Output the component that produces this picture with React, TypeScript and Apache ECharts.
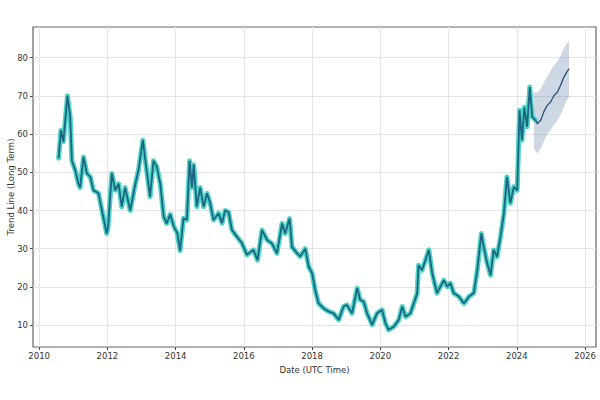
import React, { useEffect, useRef } from "react";
import * as echarts from "echarts";

// Historical trend line (decimal year, value)
const histYears = [
  2010.57, 2010.64, 2010.71, 2010.83, 2010.91, 2010.96, 2011.06, 2011.15, 2011.2, 2011.3,
  2011.4, 2011.5, 2011.59, 2011.74, 2011.84, 2011.98, 2012.02, 2012.13, 2012.23, 2012.33,
  2012.42, 2012.52, 2012.67, 2012.82, 2012.91, 2013.04, 2013.1, 2013.25, 2013.35, 2013.45,
  2013.55, 2013.65, 2013.74, 2013.84, 2013.94, 2014.05, 2014.13, 2014.23, 2014.33, 2014.41,
  2014.48, 2014.53, 2014.62, 2014.72, 2014.82, 2014.92, 2015.01, 2015.11, 2015.26, 2015.36,
  2015.45, 2015.55, 2015.65, 2015.8, 2015.94, 2016.09, 2016.28, 2016.4, 2016.53, 2016.68,
  2016.82, 2016.97, 2017.12, 2017.21, 2017.34, 2017.41, 2017.56, 2017.65, 2017.8, 2017.9,
  2018.0, 2018.09, 2018.19, 2018.34, 2018.48, 2018.63, 2018.78, 2018.92, 2019.02, 2019.17,
  2019.32, 2019.41, 2019.51, 2019.61, 2019.76, 2019.9, 2020.05, 2020.15, 2020.24, 2020.39,
  2020.54, 2020.64, 2020.74, 2020.88, 2020.98, 2021.08, 2021.12, 2021.22, 2021.32, 2021.42,
  2021.52, 2021.66, 2021.76, 2021.86, 2021.96, 2022.05, 2022.15, 2022.3, 2022.45, 2022.6,
  2022.74, 2022.84, 2022.96, 2023.03, 2023.13, 2023.23, 2023.32, 2023.42, 2023.52, 2023.62,
  2023.71, 2023.81, 2023.91, 2024.01, 2024.08, 2024.15, 2024.22, 2024.3, 2024.38, 2024.45,
  2024.55,
];
const histValues = [
  53.7, 61, 58, 70, 64.5, 53, 50.5, 47, 46, 54,
  49.7, 48.8, 45.3, 44.5, 40, 34, 35.7, 49.7, 45.3, 47,
  41, 46, 40, 47, 50.5, 58.4, 54, 43.6, 53, 51.4,
  47, 38.4, 36.6, 39, 36, 34, 29.5, 38, 37.5, 53,
  46, 52, 41, 46, 41, 44.5, 42, 37.5, 39.3, 36.7,
  40, 39.6, 34.9, 33.1, 31.5, 28.4, 29.7, 27, 34.9, 32.3,
  31.4, 28.8, 36.6, 34, 37.9, 30.5, 28.8, 28, 30, 25.3,
  23.6, 19.2, 15.7, 14.4, 13.6, 13.1, 11.4, 14.9, 15.3, 13.1,
  19.7, 16.6, 16.2, 13.1, 10.1, 13.1, 14, 10.5, 8.8, 9.6,
  11.4, 14.9, 12.2, 13.1, 15.7, 18.4, 25.7, 24.4, 27, 29.7,
  23.6, 18.4, 20.1, 21.8, 20.1, 21, 18.4, 17.5, 15.7, 17.5,
  18.4, 24.4, 34, 30.5, 26.2, 23.1, 29.7, 27.9, 33.1, 39.2,
  48.8, 41.9, 46.2, 45.3, 66.2, 58.4, 67, 61.9, 72.3, 64.5,
  63.6,
];

// Forecast
const fcYears = [2024.5, 2024.55, 2024.6, 2024.7, 2024.79, 2024.89, 2024.99, 2025.09, 2025.19, 2025.28, 2025.38, 2025.45, 2025.53];
const fcValues = [64, 63.6, 62.7, 63.6, 65.8, 67.5, 68.4, 70.1, 71, 72.7, 74.9, 76, 77.1];
const fcUpper = [70.5, 71, 70.8, 71.8, 73.5, 75, 76.6, 78, 79, 80.5, 82.5, 83.5, 84.2];
const fcLower = [56.5, 55.5, 55, 56.2, 58, 60, 61, 62.5, 63.5, 65, 67, 68.5, 69.7];

const xTicks = [2010, 2012, 2014, 2016, 2018, 2020, 2022, 2024, 2026];
const yTicks = [10, 20, 30, 40, 50, 60, 70, 80];

const FONT = "DejaVu Sans";

export default function App() {
  const ref = useRef<HTMLDivElement>(null);
  useEffect(() => {
    if (!ref.current) return;
    const chart = echarts.init(ref.current, null, { renderer: "svg" });
    const hist = histYears.map((x, i) => [x, histValues[i]]);
    const fcLine = fcYears.slice(1).map((x, i) => [x, fcValues[i + 1]]);
    const bandData = fcYears.map((x, i) => [x, fcLower[i], fcUpper[i]]);
    chart.setOption({
      animation: false,
      backgroundColor: "#ffffff",
      grid: {
        left: 33,
        right: 4,
        top: 27,
        bottom: 53,
        show: true,
        borderColor: "#666",
        borderWidth: 1.2,
        backgroundColor: "transparent",
        containLabel: false,
        outerBoundsMode: "none",
      },
      xAxis: {
        type: "value",
        min: 2009.82,
        max: 2026.32,
        axisLine: { show: false },
        axisTick: { show: true, inside: false, length: 3, customValues: xTicks, lineStyle: { color: "#444" } },
        axisLabel: {
          customValues: xTicks,
          color: "#333",
          fontFamily: FONT,
          fontSize: 8.5,
          margin: 4,
          formatter: (v: number) => String(Math.round(v)),
        },
        splitLine: { show: true, lineStyle: { color: "#e4e4e4", width: 1 } },
        name: "Date (UTC Time)",
        nameLocation: "middle",
        nameGap: 18,
        nameMoveOverlap: false,
        nameTextStyle: { color: "#333", fontFamily: FONT, fontSize: 8.5 },
      },
      yAxis: {
        type: "value",
        min: 4.3,
        max: 88,
        axisLine: { show: false },
        axisTick: { show: true, inside: false, length: 3, customValues: yTicks, lineStyle: { color: "#444" } },
        axisLabel: {
          customValues: yTicks,
          color: "#333",
          fontFamily: FONT,
          fontSize: 8.5,
          margin: 5,
          formatter: (v: number) => String(Math.round(v)),
        },
        splitLine: { show: true, lineStyle: { color: "#e4e4e4", width: 1 } },
        name: "Trend Line (Long Term)",
        nameLocation: "middle",
        nameGap: 18,
        nameMoveOverlap: false,
        nameTextStyle: { color: "#333", fontFamily: FONT, fontSize: 8.5 },
      },
      series: [
        {
          type: "custom",
          data: bandData,
          z: 1,
          silent: true,
          renderItem: (params: any, api: any) => {
            if (params.dataIndex !== 0) return null;
            const up: number[][] = [];
            const lo: number[][] = [];
            for (let i = 0; i < bandData.length; i++) {
              up.push(api.coord([bandData[i][0], bandData[i][2]]));
              lo.push(api.coord([bandData[i][0], bandData[i][1]]));
            }
            const points = up.concat(lo.reverse());
            return {
              type: "polygon",
              shape: { points },
              style: { fill: "rgba(100,135,170,0.32)", stroke: "none" },
            };
          },
        },
        {
          type: "line",
          data: hist,
          showSymbol: false,
          lineStyle: { color: "#4dd4c2", width: 5, join: "round", cap: "round" },
          z: 2,
        },
        {
          type: "line",
          data: hist,
          showSymbol: false,
          lineStyle: { color: "#1d6384", width: 1.8 },
          z: 3,
        },
        {
          type: "line",
          data: fcLine,
          showSymbol: false,
          lineStyle: { color: "#2b4e78", width: 1.3 },
          z: 4,
        },
      ],
    });
    return () => chart.dispose();
  }, []);
  return <div ref={ref} style={{ width: 600, height: 400, position: "absolute", left: 0, top: 0 }} />;
}
